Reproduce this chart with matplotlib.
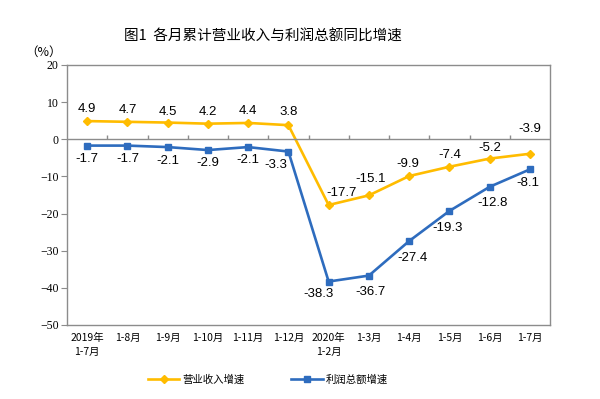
import numpy as np
import matplotlib.pyplot as plt

plt.rcParams['font.family'] = ['Noto Sans CJK SC', 'DejaVu Sans']

months = ['2019年\n1-7月', '1-8月', '1-9月', '1-10月', '1-11月', '1-12月',
          '2020年\n1-2月', '1-3月', '1-4月', '1-5月', '1-6月', '1-7月']
revenue = [4.9, 4.7, 4.5, 4.2, 4.4, 3.8, -17.7, -15.1, -9.9, -7.4, -5.2, -3.9]
profit = [-1.7, -1.7, -2.1, -2.9, -2.1, -3.3, -38.3, -36.7, -27.4, -19.3, -12.8, -8.1]

# label offsets in pixels (dx, dy)
rev_off = [(0, 12), (0, 12), (0, 11), (0, 12), (0, 12), (0, 13),
           (13, 12), (2, 16), (-1, 12), (0, 12), (0, 11), (0, 25)]
pro_off = [(0, -13), (0, -13), (0, -14), (0, -13), (0, -13), (-13, -13),
           (-10, -12), (2, -16), (3, -17), (-2, -17), (3, -16), (-2, -14)]

yellow = '#FFBC00'
blue = '#2E6CBE'
grey = '#8C8C8C'

fig = plt.figure(figsize=(6, 3.99), dpi=100)
ax = fig.add_axes([0.1117, 0.1855, 0.805, 0.6516])
x = np.arange(len(months))

ax.plot(x, revenue, color=yellow, lw=1.9, marker='D', ms=4, label='营业收入增速')
ax.plot(x, profit, color=blue, lw=1.9, marker='s', ms=4, label='利润总额增速')

# zero line with small ticks between categories
ax.axhline(0, color=grey, lw=1)
ax.vlines(np.arange(len(months) - 1) + 0.5, 0, 1.1, color=grey, lw=1)

for vals, offs in ((revenue, rev_off), (profit, pro_off)):
    for i, v in enumerate(vals):
        ax.annotate(f'{v:.1f}', (x[i], v), xytext=offs[i], textcoords='offset pixels',
                    ha='center', va='center', fontsize=9.5, family='Liberation Sans')

ax.set_xlim(-0.5, len(months) - 0.5)
ax.set_ylim(-50, 20)
ax.set_yticks(range(-50, 21, 10))
ax.set_xticks(x)
ax.set_xticklabels(months, fontsize=7.5, linespacing=1.5)
ax.tick_params(axis='x', length=0, pad=6)
ax.tick_params(axis='y', length=4, color=grey, labelsize=8.5, pad=2)
for lab in ax.get_yticklabels():
    lab.set_family('Liberation Serif')
for s in ax.spines.values():
    s.set_color(grey)
    s.set_linewidth(1)

fig.text(0.438, 0.907, '图1  各月累计营业收入与利润总额同比增速', ha='center', va='center',
         fontsize=10.5)
fig.text(0.072, 0.87, '（%）', ha='center', va='center', fontsize=9)

ax.legend(loc='center', bbox_to_anchor=(0.416, -0.21), ncol=2, frameon=False,
          fontsize=7.5, handlelength=3, columnspacing=4.5, handletextpad=0.3)

fig.savefig('out.png', dpi=100)
